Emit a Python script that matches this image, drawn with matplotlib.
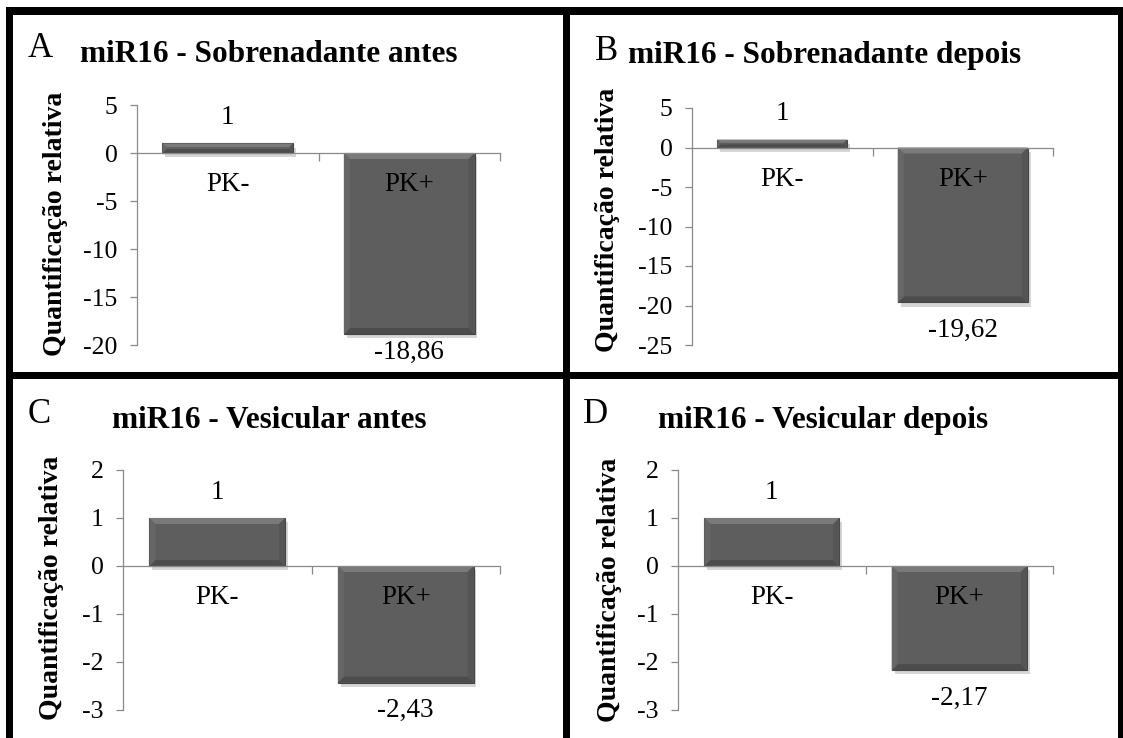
import matplotlib
matplotlib.use("Agg")
import matplotlib.pyplot as plt
import matplotlib.patheffects as pe
from matplotlib.patches import Rectangle, Polygon
from matplotlib.transforms import IdentityTransform

plt.rcParams['font.family'] = 'serif'
plt.rcParams['font.serif'] = ['Liberation Serif', 'Times New Roman', 'DejaVu Serif']
plt.rcParams['axes.unicode_minus'] = False

W, H = 1123, 738

# data
categories = ["PK-", "PK+"]
panel_letters = ["A", "B", "C", "D"]
panel_titles = ["miR16 - Sobrenadante antes", "miR16 - Sobrenadante depois",
                "miR16 - Vesicular antes", "miR16 - Vesicular depois"]
pk_minus = [1, 1, 1, 1]
pk_plus = [-18.86, -19.62, -2.43, -2.17]
y_limits = [(-20, 5), (-25, 5), (-3, 2), (-3, 2)]
y_steps = [5, 5, 1, 1]
y_label = "Quantificação relativa"

# layout in pixels (left, top, right, bottom) measured on the reference
axes_px = [(137, 105, 500, 345), (692, 108, 1053, 345),
           (123, 470, 500, 710), (678, 470, 1053, 710)]
letter_px = [(28, 57), (595, 60), (28, 423), (583, 423)]
title_px = [(80, 62), (628, 63), (112, 428), (658, 428)]
ylabel_px = [(55, 224), (608, 220), (52, 588), (610, 590)]
neg_label_offset = [-4, -11, -11, -11]

GRAY = "#898989"
BAR = "#5e5e5e"
BEVEL = {"top": "#7a7a7a", "left": "#666666", "right": "#555555", "bottom": "#4c4c4c"}


def fx(x):
    return x / W


def fy(y):
    return 1 - y / H


def fmt(v):
    if float(v).is_integer():
        return str(int(v))
    return f"{v:.2f}".replace(".", ",")


def add_bevel(ax, bar, size=6):
    # light/dark edges in display space to mimic the Excel bevel effect
    x0, y0 = ax.transData.transform((bar.get_x(), min(0, bar.get_height())))
    x1, y1 = ax.transData.transform((bar.get_x() + bar.get_width(), max(0, bar.get_height())))
    s = min(size, (y1 - y0) / 2.5, (x1 - x0) / 2)
    faces = {
        "top": [(x0, y1), (x1, y1), (x1 - s, y1 - s), (x0 + s, y1 - s)],
        "bottom": [(x0, y0), (x1, y0), (x1 - s, y0 + s), (x0 + s, y0 + s)],
        "left": [(x0, y0), (x0, y1), (x0 + s, y1 - s), (x0 + s, y0 + s)],
        "right": [(x1, y0), (x1, y1), (x1 - s, y1 - s), (x1 - s, y0 + s)],
    }
    for k, pts in faces.items():
        ax.add_patch(Polygon(pts, closed=True, facecolor=BEVEL[k], edgecolor="none",
                             transform=IdentityTransform(), clip_on=False, zorder=1.6))


fig = plt.figure(figsize=(W / 100, H / 100), dpi=100)

for i in range(4):
    l, t, r, b = axes_px[i]
    ax = fig.add_axes([fx(l), fy(b), fx(r) - fx(l), fy(t) - fy(b)])
    values = [pk_minus[i], pk_plus[i]]
    xs = list(range(len(categories)))

    lo, hi = y_limits[i]
    ax.set_ylim(lo, hi)
    ax.set_xlim(-0.5, 1.5)
    ax.set_yticks(range(lo, hi + 1, y_steps[i]))

    bars = ax.bar(xs, values, width=0.72, color=BAR, edgecolor="#444444",
                  linewidth=0.8, zorder=1.5)
    for bar in bars:
        bar.set_path_effects([pe.SimplePatchShadow(offset=(2, -3), shadow_rgbFace="#000000", alpha=0.16),
                              pe.Normal()])
        add_bevel(ax, bar)

    ax.spines['top'].set_visible(False)
    ax.spines['right'].set_visible(False)
    ax.spines['bottom'].set_position(('data', 0))
    for s in ('left', 'bottom'):
        ax.spines[s].set_color(GRAY)
        ax.spines[s].set_linewidth(0.9)

    ax.set_xticks(xs)
    ax.set_xticklabels(categories, fontsize=19.5)
    ax.set_xticks([0.5, 1.5], minor=True)
    ax.tick_params(axis='x', which='major', length=0, pad=14)
    ax.tick_params(axis='x', which='minor', length=6, width=0.9, color=GRAY, direction='out')
    ax.tick_params(axis='y', length=5, width=0.9, color=GRAY, direction='out',
                   labelsize=18.5, pad=9)
    ax.patch.set_alpha(0)

    for bar, v in zip(bars, values):
        if v >= 0:
            ax.annotate(fmt(v), (bar.get_x() + bar.get_width() / 2, v),
                        xytext=(0, 14), textcoords='offset points',
                        ha='center', va='baseline', fontsize=19.5)
        else:
            ax.annotate(fmt(v), (bar.get_x() + bar.get_width() / 2, v),
                        xytext=(0, neg_label_offset[i]), textcoords='offset points',
                        ha='center', va='top', fontsize=19.5, annotation_clip=False)

    lx, ly = letter_px[i]
    fig.text(fx(lx), fy(ly), panel_letters[i], fontsize=25, ha='left', va='baseline')
    tx, ty = title_px[i]
    fig.text(fx(tx), fy(ty), panel_titles[i], fontsize=22.5, fontweight='bold',
             ha='left', va='baseline')
    yx, yy = ylabel_px[i]
    fig.text(fx(yx), fy(yy), y_label, fontsize=20, fontweight='bold',
             rotation=90, ha='center', va='center')

# thick black panel borders
borders = [(6, 7, 1123, 15), (6, 7, 13, 738), (1118, 7, 1123, 738),
           (563, 7, 570, 738), (6, 372, 1123, 379)]
for l, t, r, b in borders:
    fig.add_artist(Rectangle((fx(l), fy(b)), fx(r) - fx(l), fy(t) - fy(b),
                             transform=fig.transFigure, facecolor="black",
                             edgecolor="none", zorder=10))

fig.savefig("out.png", dpi=100)
plt.close(fig)
